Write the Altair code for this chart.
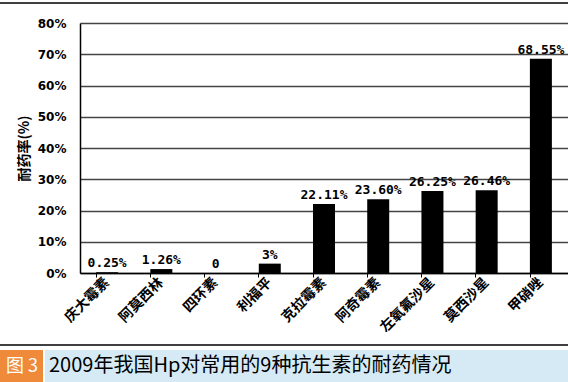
import altair as alt
import pandas as pd

drugs = ["庆大霉素", "阿莫西林", "四环素", "利福平", "克拉霉素", "阿奇霉素", "左氧氟沙星", "莫西沙星", "甲硝唑"]
rates = [0.25, 1.26, 0, 3, 22.11, 23.60, 26.25, 26.46, 68.55]
rate_labels = ["0.25%", "1.26%", "0", "3%", "22.11%", "23.60%", "26.25%", "26.46%", "68.55%"]
y_ticks = [0, 10, 20, 30, 40, 50, 60, 70, 80]
caption_tag = "图 3"
caption_text = "2009年我国Hp对常用的9种抗生素的耐药情况"
y_title = "耐药率(%)"

df = pd.DataFrame({"drug": drugs, "rate": rates, "label": rate_labels})
one = pd.DataFrame({"k": [0]})

W, H = 488, 250

x_scale = alt.Scale(paddingInner=0.6, paddingOuter=0.3)
y_scale = alt.Scale(domain=[0, 80])

x_enc = alt.X("drug:N", sort=None, title=None, scale=x_scale,
              axis=alt.Axis(labelAngle=-45, labelAlign="right", labelBaseline="middle",
                            labelFont="Noto Sans CJK SC", labelFontWeight="bold",
                            labelFontSize=14, labelColor="black", labelPadding=3,
                            bandPosition=0, tickSize=4, tickColor="black",
                            domainColor="black", domainWidth=1.5))
y_enc = alt.Y("rate:Q", scale=y_scale,
              axis=alt.Axis(values=y_ticks, labelExpr="datum.value + '%'",
                            labelOverlap=False,
                            title=y_title, titleFont="Noto Sans CJK SC",
                            titleFontSize=14, titleFontWeight="bold", titleColor="black",
                            titlePadding=6,
                            labelFont="DejaVu Sans", labelFontWeight="bold",
                            labelFontSize=12, labelColor="black", labelPadding=14,
                            tickSize=0, grid=True, gridColor="#444444", gridWidth=1.5,
                            domainColor="black", domainWidth=1.5))

base = alt.Chart(df).encode(x=x_enc, y=y_enc)
bars = base.mark_bar(color="black", size=22)
labels = base.mark_text(font="DejaVu Sans Mono", fontWeight="bold", fontSize=13,
                        dy=-9, color="black").encode(text="label:N")

top_line = alt.Chart(one).mark_rule(color="black", strokeWidth=1.5).encode(
    x=alt.value(-80), x2=alt.value(W), y=alt.value(-20))
cap_line = alt.Chart(one).mark_rule(color="black", strokeWidth=1.5).encode(
    x=alt.value(-80), x2=alt.value(W), y=alt.value(322))
cap_bg = alt.Chart(one).mark_rect(color="#d5eaf5").encode(
    x=alt.value(-35), x2=alt.value(W), y=alt.value(327), y2=alt.value(359))
tag_bg = alt.Chart(one).mark_rect(color="#ef8a3a").encode(
    x=alt.value(-80), x2=alt.value(-37), y=alt.value(327), y2=alt.value(359))
tag_txt = alt.Chart(one).mark_text(color="white", fontSize=18, font="Noto Sans CJK SC",
                                   align="center", baseline="middle").encode(
    x=alt.value(-58), y=alt.value(344), text=alt.value(caption_tag))
cap_txt = alt.Chart(one).mark_text(color="black", fontSize=20, font="Noto Sans CJK SC",
                                   align="left", baseline="middle").encode(
    x=alt.value(-31), y=alt.value(343), text=alt.value(caption_text))

chart = alt.layer(bars, labels, top_line, cap_line, cap_bg, tag_bg, tag_txt, cap_txt).properties(
    width=W, height=H,
    autosize=alt.AutoSizeParams(type="none"),
    padding={"left": 80, "top": 23, "right": 0, "bottom": 109},
    background="white",
).configure_view(strokeWidth=0)

chart.save("out.html", embed_options={"renderer": "svg", "actions": False})
